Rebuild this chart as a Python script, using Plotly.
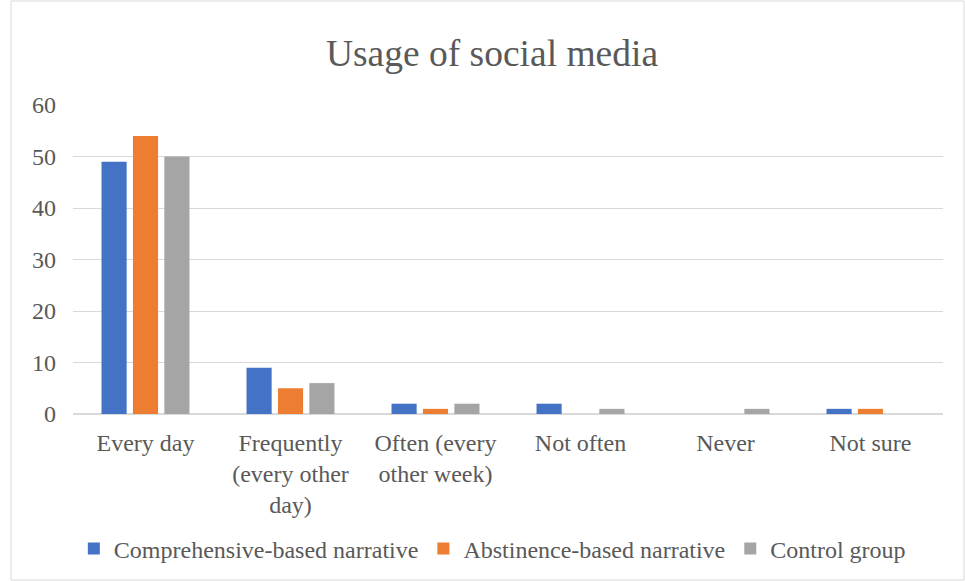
import plotly.graph_objects as go

categories = ["Every day", "Frequently<br>(every other<br>day)", "Often (every<br>other week)",
              "Not often", "Never", "Not sure"]
comprehensive = [49, 9, 2, 2, 0, 1]
abstinence = [54, 5, 1, 0, 0, 1]
control = [50, 6, 2, 1, 1, 0]

series = [
    ("Comprehensive-based narrative", comprehensive, "#4472C4"),
    ("Abstinence-based narrative", abstinence, "#ED7D31"),
    ("Control group", control, "#A5A5A5"),
]

W, H = 965, 581
ml, mr, mt, mb = 73, 22, 105, 167
SERIF = "Liberation Serif"
TXT = "#595959"

fig = go.Figure()
for name, vals, color in series:
    fig.add_trace(go.Bar(x=categories, y=vals, name=name, marker_color=color,
                         marker_line_width=0))

pw = W - ml - mr
ph = H - mt - mb

fig.update_layout(
    width=W, height=H,
    margin=dict(l=ml, r=mr, t=mt, b=mb, autoexpand=False),
    paper_bgcolor="white", plot_bgcolor="white",
    font=dict(family=SERIF, size=24, color=TXT),
    title=dict(text="Usage of social media", x=492 / W, xanchor="center",
               y=1 - 53 / H, yanchor="middle",
               font=dict(family=SERIF, size=37.5, color=TXT)),
    barmode="group", bargap=0.35, bargroupgap=0.2,
    showlegend=True,
    legend=dict(orientation="h", x=0.482, xanchor="center", y=-(549 - (mt + ph)) / ph,
                yanchor="middle", font=dict(family=SERIF, size=24, color=TXT),
                itemwidth=30, tracegroupgap=0),
    xaxis=dict(showgrid=False, showline=True, linecolor="#d9d9d9", linewidth=1,
               ticks="", ticklabelstandoff=7, automargin=False,
               tickfont=dict(family=SERIF, size=24, color=TXT)),
    yaxis=dict(range=[0, 60], dtick=10, showgrid=True, gridcolor="#d9d9d9",
               gridwidth=1, zeroline=True, zerolinecolor="#d9d9d9", showline=False,
               ticks="", ticklabelstandoff=16, automargin=False,
               tickfont=dict(family=SERIF, size=24, color=TXT)),
    shapes=[dict(type="rect", xref="paper", yref="paper",
                 x0=-(ml - 11) / pw, x1=1 + (mr - 1) / pw,
                 y0=-(mb - 1) / ph, y1=1 + (mt - 1) / ph,
                 line=dict(color="#d9d9d9", width=1), fillcolor="rgba(0,0,0,0)")],
)

fig.write_html("out.html")
